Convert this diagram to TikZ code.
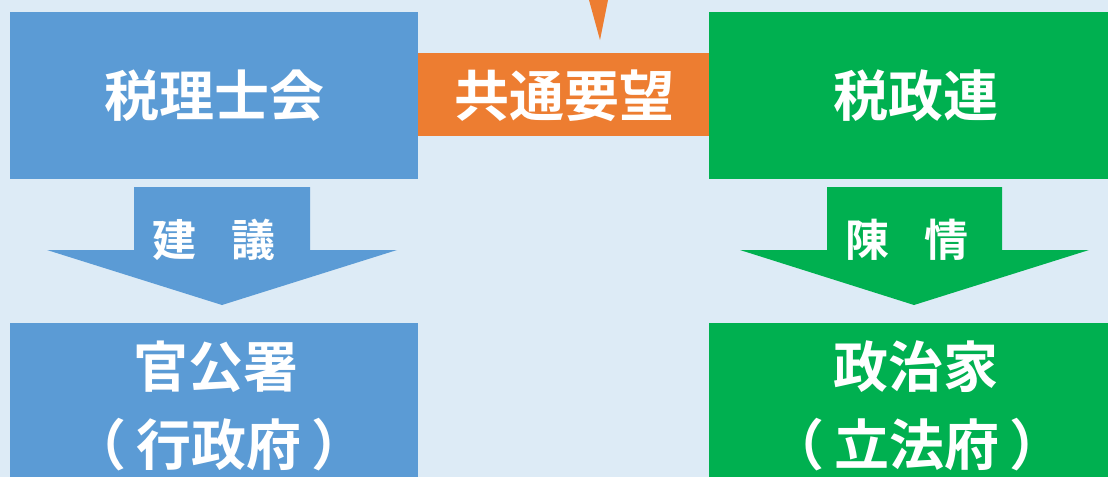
\documentclass[tikz,border=0pt]{standalone}
\usepackage{fontspec}
\newfontfamily\jp{Noto Sans CJK JP Bold}
\definecolor{bg}{HTML}{DDEBF6}
\definecolor{cblue}{HTML}{5B9BD5}
\definecolor{corange}{HTML}{ED7D31}
\definecolor{cgreen}{HTML}{00B050}
\tikzset{
  box/.style={inner sep=0pt, outer sep=0pt},
  big/.style={text=white, font=\jp\fontsize{55}{60}\selectfont, inner sep=0pt},
  small/.style={text=white, font=\jp\fontsize{44}{50}\selectfont, inner sep=0pt},
}
\begin{document}
\begin{tikzpicture}[x=1pt,y=-1pt]
\fill[bg] (0,0) rectangle (1108,477);
\useasboundingbox (0,0) rectangle (1108,477);
% top boxes
\fill[cblue] (10,12) rectangle (418,179);
\fill[cgreen] (709,12) rectangle (1108,179);
\fill[corange] (418,53) rectangle (709,136);
\fill[corange] (589,0) -- (608,0) -- (600,40) -- cycle;
% bottom boxes
\fill[cblue] (10,323) rectangle (418,477);
\fill[cgreen] (709,323) rectangle (1108,477);
% arrows
\fill[cblue] (134,187) -- (310,187) -- (310,250) -- (397,250) -- (222,305) -- (47,250) -- (134,250) -- cycle;
\fill[cgreen] (827,187) -- (1002,187) -- (1002,250) -- (1089,250) -- (914,305) -- (740,250) -- (827,250) -- cycle;
% texts
\node[big] (zeirishikai) at (214,96) {税理士会};
\node[big] (kyoutsuu) at (564,96) {共通要望};
\node[big] (zeiseiren) at (916,96) {税政連};
\node[small] (kengi) at (214,240) {建\hspace{35pt}議};
\node[small] (chinjou) at (907,240) {陳\hspace{35pt}情};
\node[big] (kankousho) at (216,367) {官公署};
\node[big] (gyousei) at (219,445) {（\hspace{10pt}行政府\hspace{10pt}）};
\node[big] (seijika) at (916,367) {政治家};
\node[big] (rippou) at (917,445) {（\hspace{10pt}立法府\hspace{10pt}）};
\end{tikzpicture}
\end{document}
